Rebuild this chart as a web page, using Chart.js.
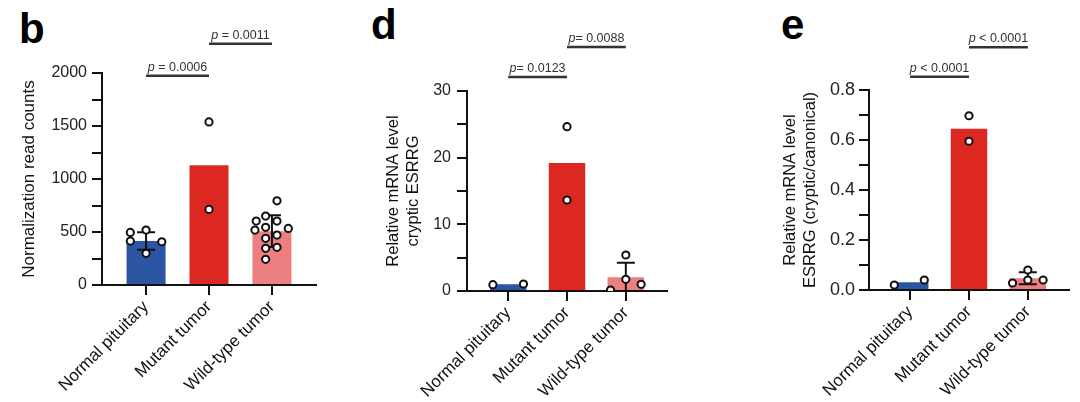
<!DOCTYPE html>
<html>
<head>
<meta charset="utf-8">
<script src="https://cdn.jsdelivr.net/npm/chart.js@4.4.1/dist/chart.umd.min.js"></script>
<style>
  body { margin: 0; background: #fff; width: 1080px; height: 402px; position: relative; overflow: hidden;
         font-family: "Liberation Sans", Arial, sans-serif; }
  canvas { position: absolute; top: 0; }
  .tag { position: absolute; font-weight: bold; font-size: 42px; line-height: 42px; color: #000; }
</style>
</head>
<body>
<div class="tag" style="left:19px;top:8px">b</div>
<div class="tag" style="left:371px;top:4px">d</div>
<div class="tag" style="left:781px;top:4px">e</div>
<canvas id="chartB" width="340" height="402" style="left:0px;width:340px;height:402px"></canvas>
<canvas id="chartD" width="350" height="402" style="left:340px;width:350px;height:402px"></canvas>
<canvas id="chartE" width="390" height="402" style="left:690px;width:390px;height:402px"></canvas>
<script>
// 組別
const groups = ['Normal pituitary', 'Mutant tumor', 'Wild-type tumor'];

// b: normalization read counts
const bMeans = [415, 1130, 508];
const bSD = [82, null, 150];
const bPoints = [
    [496, 518, 408, 414, 299],
    [1538, 713],
    [794, 603, 650, 603, 518, 544, 534, 471, 440, 346, 355, 242]
];
const bJitter = [
    [-0.25, 0, 0.25, -0.25, 0],
    [0, 0],
    [0.08, -0.25, -0.1, 0.08, -0.27, -0.1, 0.26, 0.08, -0.1, -0.1, 0.08, -0.1]
];
const bMajor = [0, 500, 1000, 1500, 2000];
const bMinor = [250, 750, 1250, 1750];
const bBrackets = [
    { from: 0, to: 1, y: 1975, text: 'p = 0.0006' },
    { from: 1, to: 2, y: 2277, text: 'p = 0.0011' }
];

// d: cryptic ESRRG
const dMeans = [1.0, 19.2, 2.05];
const dSD = [null, null, 2.2];
const dPoints = [
    [0.95, 1.05],
    [24.65, 13.65],
    [0.15, 1.75, 1.0, 5.4]
];
const dJitter = [
    [-0.26, 0.26],
    [0, 0],
    [-0.26, 0, 0.26, 0]
];
const dMajor = [0, 10, 20, 30];
const dMinor = [5, 15, 25];
const dBrackets = [
    { from: 0, to: 1, y: 32.1, text: 'p= 0.0123' },
    { from: 1, to: 2, y: 36.6, text: 'p= 0.0088' }
];

// e: cryptic/canonical
const eMeans = [0.031, 0.645, 0.047];
const eSD = [null, null, 0.024];
const ePoints = [
    [0.02, 0.04],
    [0.697, 0.595],
    [0.028, 0.08, 0.04, 0.04]
];
const eJitter = [
    [-0.27, 0.24],
    [0, 0],
    [-0.26, 0, 0, 0.26]
];
const eMajor = [0, 0.2, 0.4, 0.6, 0.8];
const eMinor = [0.1, 0.3, 0.5, 0.7];
const eBrackets = [
    { from: 0, to: 1, y: 0.853, text: 'p < 0.0001' },
    { from: 1, to: 2, y: 0.971, text: 'p < 0.0001' }
];

const barColors = ['#2c55a3', '#dc2820', '#ee7f80'];
const FONT = '"Liberation Sans", Arial, sans-serif';
const INK = '#111';

// 建立一個面板
function makePanel(canvasId, p) {
    const ctx = document.getElementById(canvasId).getContext('2d');
    const barData = p.means.map((v, i) => ({ x: i, y: v }));
    const dots = [];
    p.points.forEach((arr, i) => {
        arr.forEach((v, j) => dots.push({ x: i + p.jitter[i][j], y: v }));
    });
    const yTicks = p.major.concat(p.minor).sort((a, b) => a - b);

    // 誤差線與顯著性標示
    const extras = {
        id: 'extras',
        afterDatasetDraw(chart, args) {
            if (args.index !== 0) return;
            const xs = chart.scales.x, ys = chart.scales.y, c = chart.ctx;
            c.save();
            c.strokeStyle = INK;
            c.lineWidth = 2;
            p.sd.forEach((s, i) => {
                if (s == null) return;
                const x = xs.getPixelForValue(i);
                const hi = ys.getPixelForValue(p.means[i] + s);
                const loVal = p.means[i] - s;
                const lo = ys.getPixelForValue(Math.max(loVal, 0));
                c.beginPath();
                c.moveTo(x, hi); c.lineTo(x, lo);
                c.moveTo(x - 9, hi); c.lineTo(x + 9, hi);
                if (loVal > 0) { c.moveTo(x - 9, lo); c.lineTo(x + 9, lo); }
                c.stroke();
            });
            c.restore();
        },
        afterDraw(chart) {
            const xs = chart.scales.x, ys = chart.scales.y, c = chart.ctx;
            c.save();
            p.brackets.forEach(b => {
                const x1 = xs.getPixelForValue(b.from);
                const x2 = xs.getPixelForValue(b.to);
                const y = ys.getPixelForValue(b.y);
                c.strokeStyle = '#333';
                c.lineWidth = 2.5;
                c.beginPath();
                c.moveTo(x1, y); c.lineTo(x2, y);
                c.stroke();
                // italic p + 其餘文字
                const head = b.text.slice(0, 1), rest = b.text.slice(1);
                c.font = 'italic 12.5px ' + FONT;
                const w1 = c.measureText(head).width;
                c.font = '12.5px ' + FONT;
                const w2 = c.measureText(rest).width;
                let x = (x1 + x2) / 2 - (w1 + w2) / 2;
                c.fillStyle = '#333';
                c.textBaseline = 'alphabetic';
                c.textAlign = 'left';
                c.font = 'italic 12.5px ' + FONT;
                c.fillText(head, x, y - 5);
                c.font = '12.5px ' + FONT;
                c.fillText(rest, x + w1, y - 5);
            });
            c.restore();
        }
    };

    return new Chart(ctx, {
        type: 'scatter',
        data: {
            datasets: [
                {
                    type: 'bar',
                    data: barData,
                    backgroundColor: barColors,
                    borderWidth: 0,
                    barPercentage: 0.62,
                    categoryPercentage: 1,
                    order: 2
                },
                {
                    type: 'scatter',
                    data: dots,
                    pointRadius: 3.6,
                    pointBorderWidth: 2,
                    pointBackgroundColor: '#fff',
                    pointBorderColor: INK,
                    order: 1
                }
            ]
        },
        options: {
            responsive: false,
            animation: false,
            events: [],
            layout: { padding: { top: p.top, right: p.right, left: 0, bottom: 0 } },
            plugins: { legend: { display: false }, tooltip: { enabled: false } },
            scales: {
                x: {
                    type: 'linear',
                    min: -0.7,
                    max: 2.7,
                    offset: false,
                    afterFit: s => { s.height = p.xHeight; },
                    afterBuildTicks: s => { s.ticks = groups.map((g, i) => ({ value: i })); },
                    ticks: {
                        autoSkip: false,
                        maxRotation: 45,
                        minRotation: 45,
                        padding: 2,
                        color: INK,
                        font: { family: FONT, size: 17 },
                        callback: v => groups[v]
                    },
                    grid: { drawOnChartArea: false, drawTicks: true, tickLength: 10, lineWidth: 2, color: INK, offset: false },
                    border: { color: INK, width: 2 }
                },
                y: {
                    min: 0,
                    max: p.major[p.major.length - 1],
                    afterFit: s => { s.width = p.yWidth; },
                    afterBuildTicks: s => { s.ticks = yTicks.map(v => ({ value: v })); },
                    ticks: {
                        autoSkip: false,
                        padding: p.tickPad,
                        color: '#222',
                        font: { family: FONT, size: p.tickSize },
                        callback: v => p.major.includes(v) ? p.fmt(v) : ''
                    },
                    grid: { drawOnChartArea: false, drawTicks: true, tickLength: 10, lineWidth: 2, color: INK },
                    border: { color: INK, width: 2 },
                    title: {
                        display: true,
                        text: p.title,
                        color: INK,
                        font: { family: FONT, size: p.titleSize, lineHeight: 1.2 },
                        padding: { top: p.titlePad, bottom: 0 }
                    }
                }
            }
        },
        plugins: [extras]
    });
}

makePanel('chartB', {
    means: bMeans, sd: bSD, points: bPoints, jitter: bJitter,
    major: bMajor, minor: bMinor, brackets: bBrackets,
    fmt: v => String(v),
    title: 'Normalization read counts', titleSize: 17, titlePad: 19.5,
    tickSize: 16, tickPad: 5,
    top: 73, right: 24, yWidth: 102, xHeight: 117
});

makePanel('chartD', {
    means: dMeans, sd: dSD, points: dPoints, jitter: dJitter,
    major: dMajor, minor: dMinor, brackets: dBrackets,
    fmt: v => String(v),
    title: ['Relative mRNA level', 'cryptic ESRRG'], titleSize: 16.5, titlePad: 44,
    tickSize: 16, tickPad: 6,
    top: 91, right: 23, yWidth: 127, xHeight: 111
});

makePanel('chartE', {
    means: eMeans, sd: eSD, points: ePoints, jitter: eJitter,
    major: eMajor, minor: eMinor, brackets: eBrackets,
    fmt: v => v.toFixed(1),
    title: ['Relative mRNA level', 'ESRRG (cryptic/canonical)'], titleSize: 16.5, titlePad: 91,
    tickSize: 18, tickPad: 4,
    top: 90, right: 11, yWidth: 179, xHeight: 112
});
</script>
</body>
</html>
